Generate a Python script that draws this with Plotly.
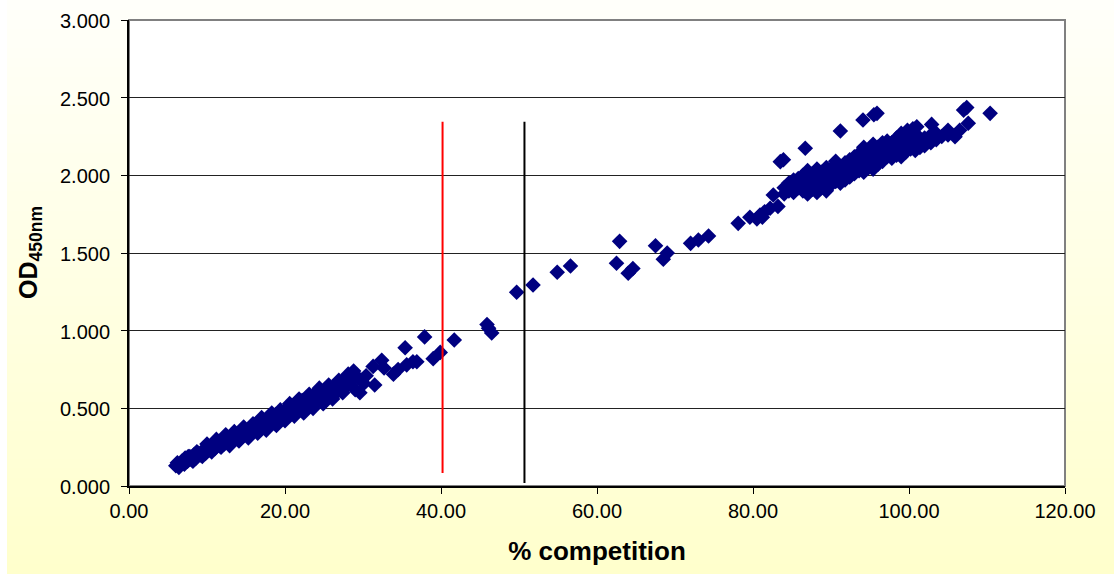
import plotly.graph_objects as go

# --- measured data: % competition vs OD450nm ---
pct_low = [6.0, 6.2, 6.5, 6.8, 7.0, 7.2, 7.5, 7.8, 8.0, 8.3, 8.6, 8.9, 9.2, 9.5, 9.8,
           10.1, 10.4, 10.7, 11.0, 11.3, 11.6, 11.9, 12.2, 12.5, 12.8, 13.1, 13.4, 13.7,
           14.0, 14.3, 14.6, 14.9, 15.2, 15.5, 15.8, 16.1, 16.4, 16.8, 17.1, 17.4, 17.8,
           18.1, 18.5, 18.8, 19.1, 19.5, 19.8, 20.1, 20.4, 20.8, 21.1, 21.5, 21.9, 22.2,
           22.6, 23.0, 23.4, 23.8, 24.2, 24.6, 25.0, 25.4, 25.8, 26.3, 26.8, 27.2, 27.6,
           28.1, 28.5, 29.0, 29.3, 29.8, 30.4]
od_low = [0.13, 0.15, 0.14, 0.16, 0.15, 0.18, 0.16, 0.19, 0.17, 0.20, 0.18, 0.21, 0.20, 0.23, 0.21,
          0.25, 0.23, 0.26, 0.24, 0.28, 0.26, 0.29, 0.27, 0.31, 0.28, 0.32, 0.30, 0.33,
          0.31, 0.35, 0.32, 0.36, 0.34, 0.37, 0.35, 0.39, 0.36, 0.41, 0.38, 0.42, 0.40,
          0.44, 0.41, 0.46, 0.43, 0.47, 0.44, 0.49, 0.46, 0.51, 0.47, 0.52, 0.49, 0.55,
          0.51, 0.56, 0.53, 0.59, 0.55, 0.61, 0.57, 0.62, 0.59, 0.64, 0.61, 0.67, 0.63,
          0.72, 0.68, 0.62, 0.70, 0.68, 0.71]

# further replicates in the low range
pct_low_rep = [6.4, 7.1, 7.6, 8.2, 8.7, 9.4, 10.0, 10.6, 11.2, 11.8, 12.4, 12.9, 13.5,
               14.1, 14.7, 15.3, 15.9, 16.5, 17.0, 17.6, 18.3, 18.9, 19.4, 20.0, 20.6,
               21.2, 21.8, 22.4, 23.1, 23.6, 24.4, 24.9, 25.6, 26.1, 26.9, 27.4, 28.0,
               28.8, 29.6, 30.1]
od_low_rep = [0.12, 0.14, 0.19, 0.16, 0.22, 0.19, 0.27, 0.22, 0.30, 0.25, 0.33, 0.26, 0.35,
              0.29, 0.38, 0.31, 0.40, 0.34, 0.44, 0.36, 0.47, 0.39, 0.49, 0.42, 0.53,
              0.45, 0.56, 0.47, 0.59, 0.50, 0.63, 0.53, 0.65, 0.56, 0.68, 0.60, 0.65,
              0.74, 0.60, 0.66]

pct_mid = [31.3, 31.5, 32.4, 32.7, 33.9, 34.5, 35.4, 35.6, 36.4, 36.9, 37.9, 39.0, 39.9,
           41.7, 45.9, 46.1, 46.5, 49.7, 51.8, 54.9, 56.6, 62.5, 62.9, 64.0, 64.6,
           67.5, 68.5, 69.0, 72.0, 73.0, 74.3, 78.1]
od_mid = [0.77, 0.65, 0.81, 0.76, 0.72, 0.75, 0.89, 0.78, 0.80, 0.80, 0.96, 0.82, 0.86,
          0.94, 1.04, 1.015, 0.985, 1.247, 1.294, 1.376, 1.416, 1.434, 1.575, 1.37, 1.40,
          1.547, 1.46, 1.50, 1.562, 1.584, 1.609, 1.691]

pct_high = [79.6, 80.5, 80.9, 81.2, 81.5, 82.2, 82.6, 83.2, 83.5, 83.9, 86.7, 91.2, 94.1,
            95.5, 95.9, 99.8, 100.5, 101.0, 102.9, 105.9, 107.0, 107.4, 107.6, 110.4,
            84.0, 84.0, 84.6, 84.6, 85.2, 85.2, 85.8, 85.8,
            86.4, 86.4, 86.4, 87.0, 87.0, 87.0, 87.0, 87.6, 87.6, 87.6,
            88.2, 88.2, 88.2, 88.2, 88.8, 88.8, 88.8, 89.4, 89.4, 89.4, 89.4,
            90.0, 90.0, 90.0, 90.6, 90.6, 90.6, 90.6, 91.2, 91.2, 91.2,
            91.8, 91.8, 91.8, 92.4, 92.4, 92.4, 93.0, 93.0, 93.0, 93.6, 93.6, 93.6,
            94.2, 94.2, 94.2, 94.2, 94.8, 94.8, 94.8, 95.4, 95.4, 95.4, 95.4,
            96.0, 96.0, 96.0, 96.6, 96.6, 96.6, 97.2, 97.2, 97.2, 97.8, 97.8, 97.8,
            98.4, 98.4, 98.4, 99.0, 99.0, 99.0, 99.0, 99.6, 99.6, 99.6,
            100.2, 100.2, 100.2, 100.8, 100.8, 100.8, 101.4, 101.4, 102.0, 102.0,
            102.8, 102.8, 103.5, 103.5, 104.2, 105.0, 105.0, 106.5]
od_high = [1.73, 1.72, 1.745, 1.73, 1.766, 1.788, 1.873, 1.80, 2.088, 2.10, 2.174, 2.285, 2.356,
           2.39, 2.399, 2.29, 2.30, 2.313, 2.328, 2.249, 2.42, 2.436, 2.335, 2.399,
           1.88, 1.92, 1.90, 1.95, 1.89, 1.97, 1.92, 1.98,
           1.90, 1.95, 2.00, 1.88, 1.93, 1.99, 2.03, 1.91, 1.96, 2.01,
           1.89, 1.94, 1.99, 2.04, 1.92, 1.97, 2.02, 1.90, 1.95, 2.00, 2.05,
           1.94, 1.99, 2.04, 1.96, 2.01, 2.06, 2.09, 1.95, 2.00, 2.05,
           1.97, 2.03, 2.08, 1.99, 2.05, 2.10, 2.01, 2.07, 2.12, 2.03, 2.09, 2.14,
           2.02, 2.08, 2.13, 2.18, 2.05, 2.11, 2.16, 2.04, 2.10, 2.16, 2.20,
           2.07, 2.13, 2.18, 2.09, 2.15, 2.21, 2.12, 2.17, 2.22, 2.11, 2.16, 2.21,
           2.13, 2.19, 2.24, 2.12, 2.18, 2.23, 2.27, 2.15, 2.20, 2.25,
           2.17, 2.22, 2.26, 2.16, 2.21, 2.27, 2.18, 2.23, 2.19, 2.24,
           2.21, 2.26, 2.23, 2.27, 2.25, 2.26, 2.29, 2.29]

# cut-off markers
cutoff_red_x = [40.2, 40.2]
cutoff_red_y = [0.084, 2.345]
cutoff_black_x = [50.7, 50.7]
cutoff_black_y = [0.02, 2.345]

# y-axis tick values and labels
od_ticks = [0.0, 0.5, 1.0, 1.5, 2.0, 2.5, 3.0]
od_tick_labels = ["0.000", "0.500", "1.000", "1.500", "2.000", "2.500", "3.000"]

FONT = "Liberation Sans, Arial, sans-serif"

fig = go.Figure()
fig.add_trace(go.Scatter(
    x=pct_low + pct_low_rep + pct_mid + pct_high,
    y=od_low + od_low_rep + od_mid + od_high,
    mode="markers",
    marker=dict(symbol="diamond", size=12, color="#000080", line=dict(width=0)),
    showlegend=False,
))
fig.add_trace(go.Scatter(x=cutoff_red_x, y=cutoff_red_y, mode="lines",
                         line=dict(color="#FF0000", width=2), showlegend=False))
fig.add_trace(go.Scatter(x=cutoff_black_x, y=cutoff_black_y, mode="lines",
                         line=dict(color="#000000", width=2), showlegend=False))

# page background: vertical white-to-pale-yellow gradient built from bands
W, H = 1114, 574
L, R, T, B = 129, 49, 20, 88
pw, ph = W - L - R, H - T - B


def px_to_paper_x(p):
    return (p - L) / pw


def px_to_paper_y(p):
    return (H - B - p) / ph


shapes = []
n_bands = 60
for i in range(n_bands):
    y0 = H * i / n_bands
    y1 = H * (i + 1) / n_bands + 1
    f = (i + 0.5) / n_bands
    b = round(250 - (250 - 204) * f)
    shapes.append(dict(type="rect", xref="paper", yref="paper", layer="below",
                       x0=px_to_paper_x(7), x1=px_to_paper_x(W),
                       y0=px_to_paper_y(y1), y1=px_to_paper_y(y0),
                       line=dict(width=0), fillcolor=f"rgb(255,255,{b})"))
# plot area
shapes.append(dict(type="rect", xref="paper", yref="paper", layer="below",
                   x0=0, x1=1, y0=0, y1=1, line=dict(color="#808080", width=2),
                   fillcolor="white"))

# y tick labels, set slightly away from the tick marks
annotations = [
    dict(x=0, xref="paper", y=v, yref="y", text=t, showarrow=False,
         xanchor="right", yanchor="middle", xshift=-17, yshift=-1,
         font=dict(family=FONT, size=20, color="black"))
    for v, t in zip(od_ticks, od_tick_labels)
]
# y axis title
annotations.append(dict(
    x=px_to_paper_x(30), xref="paper", y=0.5, yref="paper",
    text="<b>OD<sub>450nm</sub></b>", textangle=-90, showarrow=False,
    xanchor="center", yanchor="middle",
    font=dict(family=FONT, size=25, color="black"),
))

fig.update_layout(
    width=W, height=H,
    margin=dict(l=L, r=R, t=T, b=B, pad=0),
    paper_bgcolor="white",
    plot_bgcolor="rgba(0,0,0,0)",
    font=dict(family=FONT, size=20, color="black"),
    shapes=shapes,
    annotations=annotations,
    xaxis=dict(
        range=[0, 120], dtick=20, tick0=0, tickformat=".2f",
        ticks="outside", ticklen=6, tickcolor="black", tickwidth=1,
        showline=True, linecolor="black", linewidth=1.5,
        showgrid=False, zeroline=False,
        title=dict(text="<b>% competition</b>", font=dict(size=26), standoff=21),
    ),
    yaxis=dict(
        range=[0, 3], tickvals=od_ticks, showticklabels=False,
        ticks="outside", ticklen=6, tickcolor="black", tickwidth=1,
        showline=True, linecolor="black", linewidth=1.5,
        showgrid=True, gridcolor="#222222", gridwidth=1, zeroline=False,
    ),
)

fig.write_html("out.html")
